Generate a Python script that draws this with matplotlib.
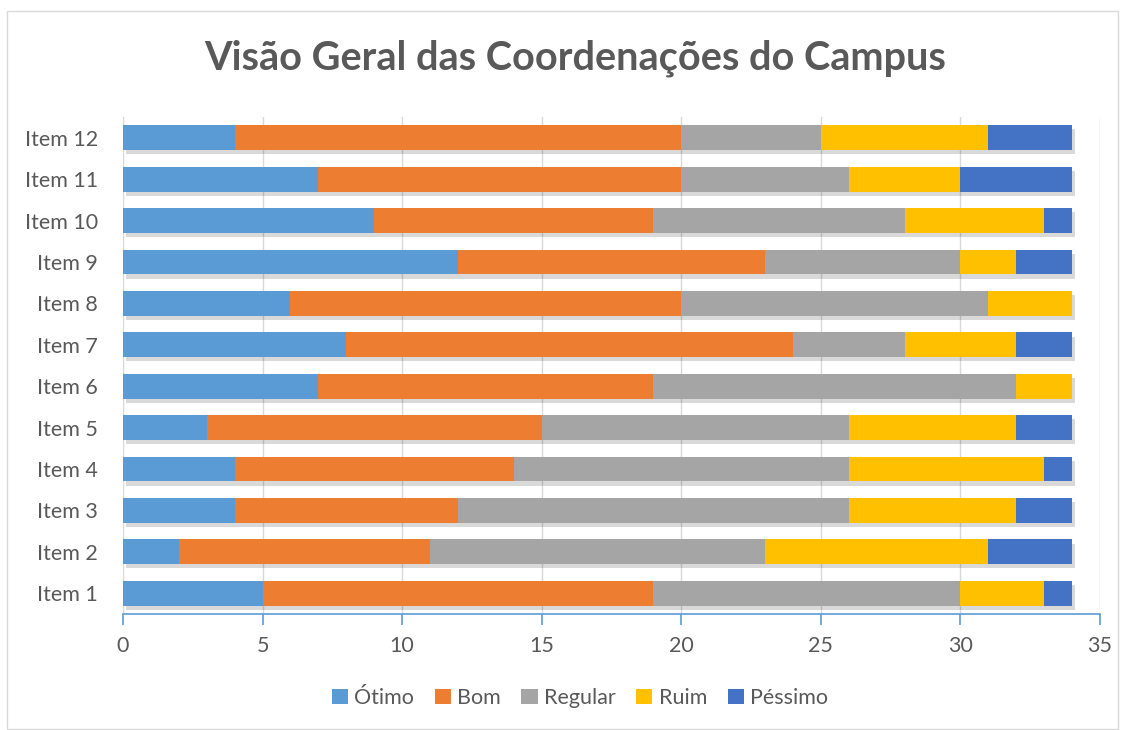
import matplotlib
matplotlib.use('Agg')
import matplotlib.pyplot as plt
import matplotlib.patheffects as pe
from matplotlib.patches import Rectangle

# dados
itens = ['Item 1', 'Item 2', 'Item 3', 'Item 4', 'Item 5', 'Item 6',
         'Item 7', 'Item 8', 'Item 9', 'Item 10', 'Item 11', 'Item 12']
otimo = [5, 2, 4, 4, 3, 7, 8, 6, 12, 9, 7, 4]
bom = [14, 9, 8, 10, 12, 12, 16, 14, 11, 10, 13, 16]
regular = [11, 12, 14, 12, 11, 13, 4, 11, 7, 9, 6, 5]
ruim = [3, 8, 6, 7, 6, 2, 4, 3, 2, 5, 4, 6]
pessimo = [1, 3, 2, 1, 2, 0, 2, 0, 2, 1, 4, 3]

series = [('Ótimo', otimo, '#5B9BD5'), ('Bom', bom, '#ED7D31'),
          ('Regular', regular, '#A5A5A5'), ('Ruim', ruim, '#FFC000'),
          ('Péssimo', pessimo, '#4472C4')]

plt.rcParams['font.family'] = ['Lato', 'DejaVu Sans']
cor_texto = '#595959'

fig = plt.figure(figsize=(11.28, 7.3), dpi=100)
W, H = 1128, 730
ax = fig.add_axes([123 / W, 1 - 614 / H, (1100 - 123) / W, (614 - 117) / H])

# borda do gráfico
fig.patches.append(Rectangle((7 / W, 1 / H), 1111 / W, 718 / H, transform=fig.transFigure,
                             fill=False, edgecolor='#D9D9D9', linewidth=1))

y = list(range(len(itens)))
esquerda = [0] * len(itens)
sombra = [pe.SimplePatchShadow(offset=(2, -3), shadow_rgbFace='#000000', alpha=0.15), pe.Normal()]
for nome, vals, cor in series:
    ax.barh(y, vals, left=esquerda, height=0.6, color=cor, label=nome,
            zorder=3, path_effects=sombra)
    esquerda = [a + b for a, b in zip(esquerda, vals)]

ax.set_xlim(0, 35)
ax.set_ylim(-0.5, len(itens) - 0.5)
ax.set_xticks(range(0, 36, 5))
ax.set_yticks(y)
ax.set_yticklabels(itens)
ax.grid(axis='x', color='#D9D9D9', linewidth=1, zorder=0)
ax.set_axisbelow(True)

for s in ['top', 'right']:
    ax.spines[s].set_visible(False)
ax.spines['left'].set_color('#D9D9D9')
ax.spines['bottom'].set_color('#5B9BD5')
ax.spines['bottom'].set_linewidth(1.2)
ax.tick_params(axis='x', colors='#5B9BD5', direction='out', length=8, width=1.2,
               labelcolor=cor_texto, labelsize=15.5, pad=8)
ax.tick_params(axis='y', length=0, labelcolor=cor_texto, labelsize=15.5, pad=18)

fig.text(575 / W, 1 - 58 / H, 'Visão Geral das Coordenações do Campus', ha='center',
         va='center', fontsize=28.5, fontweight='bold', color=cor_texto)

leg = fig.legend(loc='center', bbox_to_anchor=(580 / W, 1 - 698 / H), ncol=5, frameon=False,
                 fontsize=15.5, labelcolor=cor_texto, handlelength=0.75, handleheight=0.75,
                 handletextpad=0.3, columnspacing=0.95)
for h in leg.legend_handles:
    h.set_path_effects([])

fig.savefig('out.png', dpi=100)
